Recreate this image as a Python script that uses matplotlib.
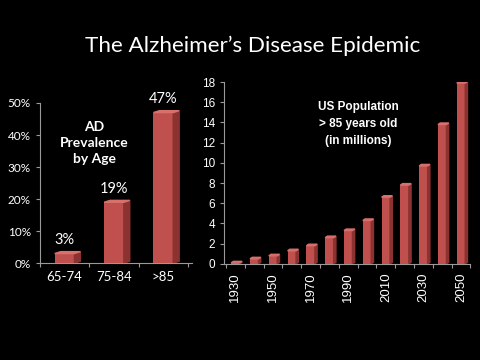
import matplotlib.pyplot as plt
from matplotlib.patches import Polygon

age_groups = ["65-74", "75-84", ">85"]
prevalence = [3, 19, 47]

years = [1930, 1940, 1950, 1960, 1970, 1980, 1990, 2000, 2010, 2020, 2030, 2040, 2050]
population = [0.1, 0.5, 0.8, 1.3, 1.8, 2.6, 3.3, 4.3, 6.6, 7.8, 9.7, 13.8, 17.9]

RED = "#c0504d"
SIDE = "#8c3331"
TOP = "#d8706c"
AXIS = "#9a9a9a"


def bars3d(ax, xs, vals, width, dx, dy):
    ax.bar(xs, vals, width, color=RED, zorder=3)
    for x, v in zip(xs, vals):
        r = x + width / 2
        l = x - width / 2
        side = [(r, 0), (r + dx, dy), (r + dx, v + dy), (r, v)]
        top = [(l, v), (r, v), (r + dx, v + dy), (l + dx, v + dy)]
        ax.add_patch(Polygon(side, closed=True, color=SIDE, zorder=3))
        ax.add_patch(Polygon(top, closed=True, color=TOP, zorder=3))


def style(ax):
    ax.set_facecolor("black")
    for s in ["top", "right"]:
        ax.spines[s].set_visible(False)
    for s in ["left", "bottom"]:
        ax.spines[s].set_color(AXIS)
    ax.tick_params(colors="white", which="both")
    ax.tick_params(axis="both", color=AXIS, direction="out", length=3)


plt.rcParams["font.family"] = ["Lato", "DejaVu Sans"]
fig = plt.figure(figsize=(4.8, 3.6), dpi=100, facecolor="black")

fig.text(0.526, 0.873, "The Alzheimer\u2019s Disease Epidemic", color="white",
         fontsize=16.2, ha="center", va="center")

# left chart
ax1 = fig.add_axes([0.083, 0.269, 0.317, 0.445])
style(ax1)
xs = list(range(len(age_groups)))
bars3d(ax1, xs, prevalence, 0.4, 0.12, 0.6)
ax1.set_xlim(-0.48, 2.58)
ax1.set_ylim(0, 50)
ax1.set_yticks([0, 10, 20, 30, 40, 50])
ax1.set_yticklabels([f"{v}%" for v in [0, 10, 20, 30, 40, 50]], fontsize=8.5)
ax1.set_xticks([-0.5, 0.5, 1.5, 2.5])
ax1.set_xticklabels([])
ax1.set_xticks(xs, minor=True)
ax1.set_xticklabels(age_groups, minor=True, fontsize=9.5)
ax1.tick_params(axis="x", which="minor", length=0, pad=6)
for x, v in zip(xs, prevalence):
    ax1.text(x, v + 2.0, f"{v}%", color="white", fontsize=10.5, ha="center", va="bottom")
ax1.text(0.36, 0.75, "AD\nPrevalence\nby Age", transform=ax1.transAxes, color="white",
         fontsize=10, fontweight="bold", ha="center", va="center", linespacing=1.4)

# right chart
ax2 = fig.add_axes([0.467, 0.267, 0.513, 0.505])
style(ax2)
xs2 = list(range(len(years)))
bars3d(ax2, xs2, population, 0.45, 0.12, 0.15)
ax2.set_xlim(-0.6, 12.4)
ax2.set_ylim(0, 18)
ax2.set_yticks(range(0, 19, 2))
ax2.set_yticklabels([str(v) for v in range(0, 19, 2)], fontsize=8.5,
                    family=["Liberation Sans", "DejaVu Sans"])
ax2.set_xticks([i - 0.5 for i in range(len(years) + 1)])
ax2.set_xticklabels([])
ax2.set_xticks(xs2[::2], minor=True)
ax2.set_xticklabels([str(y) for y in years[::2]], minor=True, rotation=90,
                    fontsize=9.5, family=["Liberation Sans", "DejaVu Sans"])
ax2.tick_params(axis="x", which="minor", length=0, pad=6)
ax2.text(0.545, 0.77, "US Population\n> 85 years old\n(in millions)", transform=ax2.transAxes,
         color="white", fontsize=8.5, fontweight="bold", ha="center", va="center",
         linespacing=1.55, family=["Liberation Sans", "DejaVu Sans"])

fig.savefig("out.png", dpi=100, facecolor="black")
